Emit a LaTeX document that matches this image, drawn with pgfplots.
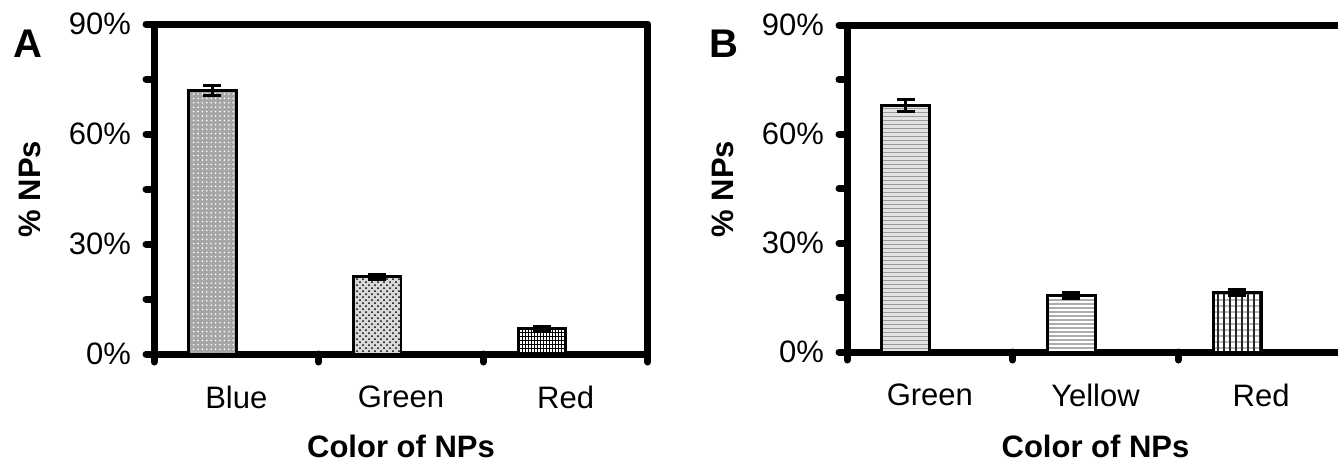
\documentclass[border=0pt]{standalone}
\usepackage{pgfplots}
\pgfplotsset{compat=1.18}
\usepackage{fontspec}
\setmainfont{Liberation Sans}
\usetikzlibrary{patterns,patterns.meta}
\pgfplotsset{
  myax/.style={
    scale only axis, anchor=south west,
    xmin=0, xmax=3, ymin=0, ymax=90,
    axis line style={line width=3.5pt, line join=round, line cap=round},
    tick align=outside, tick pos=left,
    major tick length=4pt, minor tick length=4pt,
    tick style={black, line width=3.5pt, line cap=round},
    ytick={0,30,60,90}, yticklabels={0\%,30\%,60\%,90\%},
    minor ytick={15,45,75},
    xtick={0,1,2,3}, xticklabels={},
    extra x ticks={0.5,1.5,2.5},
    extra x tick style={major tick length=0pt, tick style={draw=none}},
    tick label style={font=\fontsize{15.5}{18}\selectfont},
    xticklabel style={yshift=-12.5pt},
    yticklabel style={xshift=-4pt},
    clip=false,
  },
  mybar/.style={ybar, bar width=0.29, bar shift=0pt, draw=black, line width=1.4pt,
    error bars/y dir=both, error bars/y explicit,
    error bars/error bar style={line width=1.5pt, black},
    error bars/error mark=-,
    error bars/error mark options={rotate=90, line width=1.5pt, mark size=4.5pt, black}},
}
\begin{document}
\begin{tikzpicture}
\useasboundingbox (0,0) rectangle (669pt,234pt);
% Panel A
\begin{axis}[myax, at={(77pt,57pt)}, width=247pt, height=165pt,
  extra x tick labels={Blue,Green,Red}]
\addplot[mybar, fill=gray!70, postaction={pattern={Dots[distance=2.2pt, radius=0.45pt]}, pattern color=white}]
  coordinates {(0.355,71.8) +- (0,1.4)};
\addplot[mybar, fill=gray!30, postaction={pattern=crosshatch dots, pattern color=black}]
  coordinates {(1.355,21.1) +- (0,0.7)};
\addplot[mybar, fill=white,
  postaction={pattern={Lines[distance=1.5pt, angle=90, line width=0.35pt]}, pattern color=black},
  postaction={pattern={Lines[distance=2pt, angle=0, line width=0.35pt]}, pattern color=black}]
  coordinates {(2.355,6.9) +- (0,0.7)};
\end{axis}
% Panel B
\begin{axis}[myax, at={(423.5pt,58pt)}, width=248.5pt, height=163.5pt,
  extra x tick labels={Green,Yellow,Red}]
\addplot[mybar, fill=gray!22, postaction={pattern={Lines[distance=2pt, angle=0, line width=0.45pt]}, pattern color=gray!80}]
  coordinates {(0.355,67.8) +- (0,1.6)};
\addplot[mybar, fill=white, postaction={pattern={Lines[distance=2pt, angle=0, line width=0.8pt]}, pattern color=gray!65}]
  coordinates {(1.355,15.5) +- (0,0.8)};
\addplot[mybar, fill=white,
  postaction={pattern={Lines[distance=3pt, angle=0, line width=1.2pt]}, pattern color=gray!55},
  postaction={pattern={Lines[distance=3pt, angle=90, line width=0.9pt]}, pattern color=black!85}]
  coordinates {(2.355,16.3) +- (0,0.8)};
\end{axis}
% Text
\node[font=\bfseries\fontsize{20}{24}\selectfont] at (14pt,212pt) {A};
\node[font=\bfseries\fontsize{20}{24}\selectfont] at (362pt,212pt) {B};
\node[rotate=90, font=\bfseries\fontsize{15.5}{18}\selectfont] at (15pt,139.5pt) {\% NPs};
\node[rotate=90, font=\bfseries\fontsize{15.5}{18}\selectfont] at (361.5pt,139.5pt) {\% NPs};
\node[font=\bfseries\fontsize{15.5}{18}\selectfont] at (200.5pt,11pt) {Color of NPs};
\node[font=\bfseries\fontsize{15.5}{18}\selectfont] at (547.75pt,11pt) {Color of NPs};
\end{tikzpicture}
\end{document}
